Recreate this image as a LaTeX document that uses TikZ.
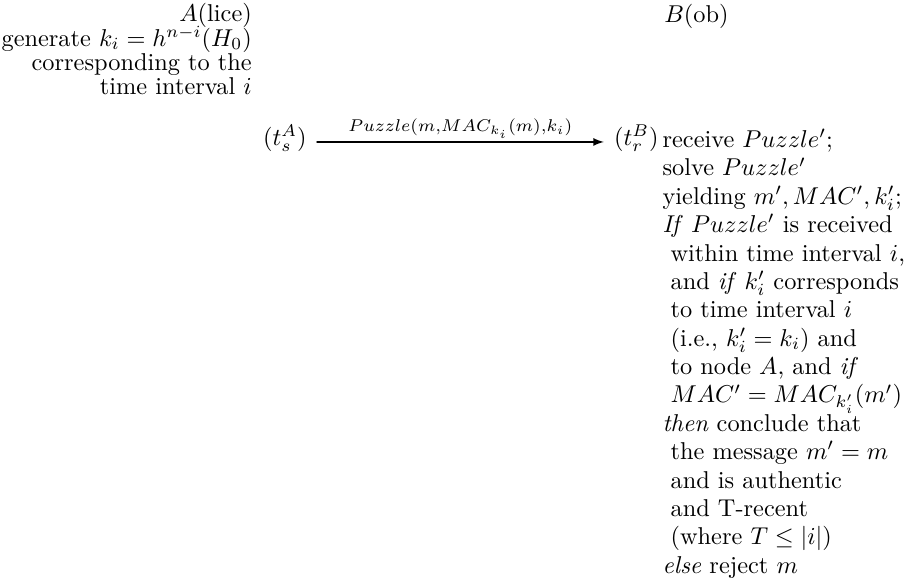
\documentclass[tikz,border=0pt]{standalone}
\usetikzlibrary{positioning}
\newcommand{\ind}{\hspace*{3.3pt}}
\newcommand{\leftlines}{\fontsize{10pt}{10pt}\selectfont\lineskiplimit=-20pt\relax}
\newcommand{\rightlines}{\fontsize{10pt}{11.65pt}\selectfont\lineskiplimit=-20pt\relax}
\tikzset{
  party/.style={inner sep=0pt},
  steps/.style={inner sep=0pt,align=left,font=\rightlines},
  stamp/.style={inner xsep=4pt,inner ysep=0pt},
}
\begin{document}
\begin{tikzpicture}[x=1pt,y=1pt,line cap=round,line join=round,>=latex]
  \useasboundingbox (0,0) rectangle (377.4,-237.8);
  % parties
  \node[party,anchor=north east,align=right,font=\leftlines] (alice) at (103.6,-1.2)
    {$A$(lice)\\ generate $k_i=h^{n-i}(H_0)$\\ corresponding to the\\ time interval $i$};
  \node[party,anchor=north west] (bob) at (272.6,-1.5) {$B$(ob)};
  % time stamps and message
  \node[stamp,anchor=base] (ts) at (117.0,-59.8) {$(t_s^A)$};
  \node[stamp,anchor=base] (tr) at (261.3,-59.8) {$(t_r^B)$};
  \draw[line width=0.5pt,-latex] ([yshift=1.5pt]ts.base east) -- ([yshift=1.5pt]tr.base west)
    node[midway,above=1.3pt,inner sep=0pt] {$\scriptstyle Puzzle(m,MAC_{k_i}(m),k_i)$};
  % what B does
  \node[steps,anchor=north west] (check) at (271.9,-52.9)
    {receive $Puzzle'$;\\
     solve $Puzzle'$\\
     yielding $m',MAC',k_i'$;\\
     \textit{If} $Puzzle'$ is received\\
     \ind within time interval $i$,\\
     \ind and \textit{if} $k_i'$ corresponds\\
     \ind to time interval $i$\\
     \ind (i.e., $k_i'=k_i$) and\\
     \ind to node $A$, and \textit{if}\\
     \ind $MAC'=MAC_{k_i'}(m')$\\
     \textit{then} conclude that\\
     \ind the message $m'=m$\\
     \ind and is authentic\\
     \ind and T-recent\\
     \ind (where $T\le|i|$)\\
     \textit{else} reject $m$};
\end{tikzpicture}
\end{document}
